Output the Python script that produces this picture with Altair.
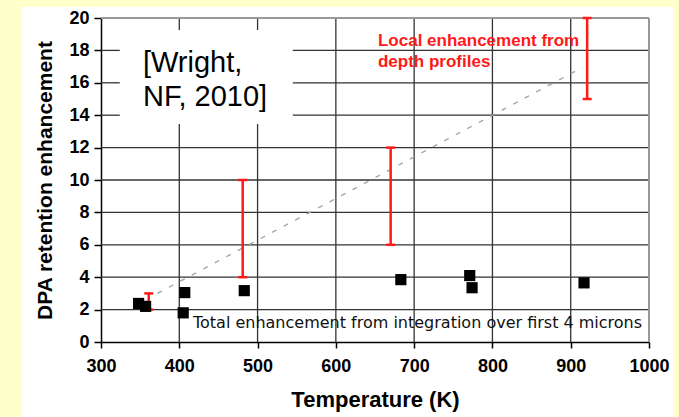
import altair as alt
import pandas as pd

# ---- data ----
# Total enhancement from integration over first 4 microns (black squares)
total_temp = [348, 357, 407, 405, 483, 683, 771, 774, 917]
total_enh = [2.38, 2.2, 3.05, 1.8, 3.17, 3.85, 4.1, 3.35, 3.65]

# Local enhancement from depth profiles (red ranges)
local_temp = [361, 481, 670, 921]
local_low = [2.0, 4.0, 6.0, 15.0]
local_high = [3.0, 10.0, 12.0, 20.0]

# dashed trend guide
trend_temp = [372, 915]
trend_enh = [3.0, 16.95]

x_ticks = [300, 400, 500, 600, 700, 800, 900, 1000]
y_ticks = [0, 2, 4, 6, 8, 10, 12, 14, 16, 18, 20]

# annotation texts
cite_text = ["[Wright,", "NF, 2010]"]
local_label = ["Local enhancement from", "depth profiles"]
total_label = ["Total enhancement from integration over first 4 microns"]

# citation box (data coordinates) - gridlines are interrupted there
cite_box_x = [324, 545]
cite_box_y = [13.46, 19.26]

RED = "#FF1A1A"
YELLOW = "#FFFFCC"
FONT = "Liberation Sans"
X0, X1 = x_ticks[0], x_ticks[-1]
Y0, Y1 = y_ticks[0], y_ticks[-1]

xs = alt.Scale(domain=[X0, X1], nice=False, zero=False)
ys = alt.Scale(domain=[Y0, Y1], nice=False, zero=True)

xaxis = alt.Axis(values=x_ticks, grid=False, format="d", domainColor="black", domainWidth=1.5,
                 tickColor="black", tickSize=6, tickWidth=1.5, labelFont=FONT,
                 labelFontWeight="bold", labelFontSize=18, labelColor="black",
                 labelPadding=9, labelFlush=False, labelOverlap=False,
                 titleFont=FONT, titleFontSize=22, titleFontWeight="bold",
                 titleColor="black", titlePadding=14)
yaxis = alt.Axis(values=y_ticks, grid=False, format="d", domainColor="black", domainWidth=1.5,
                 tickColor="black", tickSize=7, tickWidth=1.5, labelFont=FONT,
                 labelFontWeight="bold", labelFontSize=18, labelColor="black",
                 labelPadding=5, labelFlush=False, labelOverlap=False,
                 titleFont=FONT, titleFontSize=21, titleFontWeight="bold",
                 titleColor="black", titlePadding=13)


def X(field, **kw):
    return alt.X(field, type="quantitative", scale=xs, axis=xaxis, title="Temperature (K)", **kw)


def Y(field, **kw):
    return alt.Y(field, type="quantitative", scale=ys, axis=yaxis,
                 title="DPA retention enhancement", **kw)


# gridline segments, split where the citation box sits
gv_rows = []
for t in x_ticks[1:-1]:
    if cite_box_x[0] < t < cite_box_x[1]:
        gv_rows.append((t, Y0, cite_box_y[0]))
        gv_rows.append((t, cite_box_y[1], Y1))
    else:
        gv_rows.append((t, Y0, Y1))
gh_rows = []
for e in y_ticks[1:-1]:
    if cite_box_y[0] < e < cite_box_y[1]:
        gh_rows.append((e, X0, cite_box_x[0]))
        gh_rows.append((e, cite_box_x[1], X1))
    else:
        gh_rows.append((e, X0, X1))
gv_df = pd.DataFrame(gv_rows, columns=["gx", "gy0", "gy1"])
gh_df = pd.DataFrame(gh_rows, columns=["hy", "hx0", "hx1"])

grid_v = alt.Chart(gv_df).mark_rule(color="#333333", strokeWidth=1.3).encode(
    x=X("gx"), y=Y("gy0"), y2=alt.Y2("gy1"))
grid_h = alt.Chart(gh_df).mark_rule(color="#333333", strokeWidth=1.3).encode(
    y=Y("hy"), x=X("hx0"), x2=alt.X2("hx1"))
bt_df = pd.DataFrame({"by": [Y1], "bx0": [X0], "bx1": [X1]})
br_df = pd.DataFrame({"rx": [X1], "ry0": [Y0], "ry1": [Y1]})
border_top = alt.Chart(bt_df).mark_rule(color="#999999", strokeWidth=2).encode(
    y=Y("by"), x=X("bx0"), x2=alt.X2("bx1"))
border_right = alt.Chart(br_df).mark_rule(color="#999999", strokeWidth=2).encode(
    x=X("rx"), y=Y("ry0"), y2=alt.Y2("ry1"))

trend = alt.Chart(pd.DataFrame({"t": trend_temp, "e": trend_enh})).mark_line(
    color="#a0a0a0", strokeWidth=1.3, strokeDash=[5, 8]).encode(x=X("t"), y=Y("e"))

local_df = pd.DataFrame({"t": local_temp, "lo": local_low, "hi": local_high})
err_rule = alt.Chart(local_df).mark_rule(color=RED, strokeWidth=2.5).encode(
    x=X("t"), y=Y("lo"), y2=alt.Y2("hi"))
cap_lo = alt.Chart(local_df).mark_tick(color=RED, orient="horizontal", size=9,
                                       thickness=2.5, opacity=1).encode(x=X("t"), y=Y("lo"))
cap_hi = alt.Chart(local_df).mark_tick(color=RED, orient="horizontal", size=9,
                                       thickness=2.5, opacity=1).encode(x=X("t"), y=Y("hi"))

squares = alt.Chart(pd.DataFrame({"t": total_temp, "e": total_enh})).mark_point(
    shape="square", filled=True, size=125, color="black", opacity=1).encode(
    x=X("t"), y=Y("e"))

cite = alt.Chart(pd.DataFrame({"t": [353.6], "e": [16.68],
                               "txt": ["\n".join(cite_text)]})).mark_text(
    align="left", baseline="alphabetic", font=FONT, fontSize=29, lineHeight=34,
    lineBreak="\n", color="black").encode(x=X("t"), y=Y("e"), text="txt:N")

local_txt = alt.Chart(pd.DataFrame({"t": [653.8], "e": [18.29],
                                    "txt": ["\n".join(local_label)]})).mark_text(
    align="left", baseline="alphabetic", font=FONT, fontSize=17, fontWeight="bold",
    lineHeight=21, lineBreak="\n", color=RED).encode(x=X("t"), y=Y("e"), text="txt:N")

total_txt = alt.Chart(pd.DataFrame({"t": [417.5], "e": [0.86],
                                    "txt": total_label})).mark_text(
    align="left", baseline="alphabetic", font="DejaVu Sans", fontSize=16,
    color="#111111").encode(x=X("t"), y=Y("e"), text="txt:N")

# yellow slide margins around the white figure panel (decoration, pixel offsets)
strip = pd.DataFrame({"m": [0]})
margin_left = alt.Chart(strip).mark_rect(color=YELLOW).encode(
    x=alt.value(-101), x2=alt.value(-79), y=alt.value(-18), y2=alt.value(399))
margin_top = alt.Chart(strip).mark_rect(color=YELLOW).encode(
    x=alt.value(-101), x2=alt.value(578), y=alt.value(-18), y2=alt.value(-11))
margin_right = alt.Chart(strip).mark_rect(color=YELLOW).encode(
    x=alt.value(572), x2=alt.value(578), y=alt.value(-18), y2=alt.value(399))

chart = alt.layer(
    grid_v, grid_h, border_top, border_right, trend,
    err_rule, cap_lo, cap_hi, squares, cite, local_txt, total_txt,
    margin_left, margin_top, margin_right
).properties(
    width=548, height=324,
    autosize=alt.AutoSizeParams(type="none"),
    padding={"left": 101, "top": 18, "right": 30, "bottom": 75},
    background="white",
).configure_view(strokeWidth=0)

chart.save("out.html", embed_options={"renderer": "svg", "actions": False})
